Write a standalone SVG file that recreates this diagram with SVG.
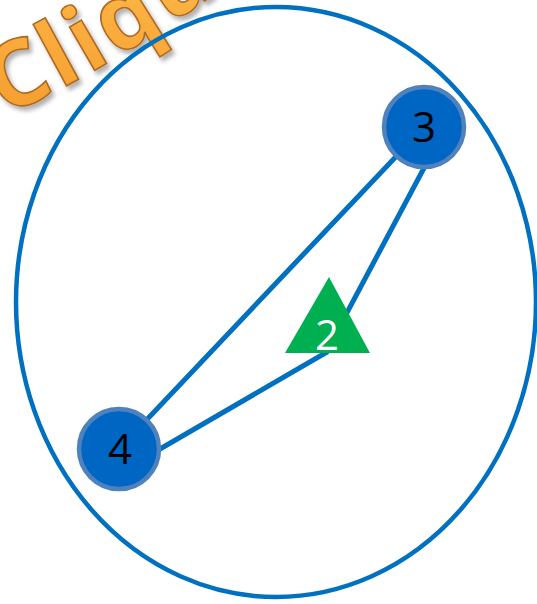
<svg xmlns="http://www.w3.org/2000/svg" width="537" height="604" viewBox="0 0 537 604">
<defs>
<style>
.edge{stroke:#0070c0;stroke-width:5;fill:none;stroke-linecap:round}
.node{fill:#0066c4;stroke:#4f81bd;stroke-width:4.5}
.lbl{font-family:"Open Sans","Noto Sans",sans-serif;font-size:42px;text-anchor:middle}
.word{font-family:"Open Sans","Lato",sans-serif;font-size:92px;font-weight:700;fill:url(#orange);stroke:#b06a22;stroke-width:1.6;letter-spacing:4px}
</style>
<linearGradient id="orange" x1="0" y1="0" x2="0" y2="1">
<stop offset="0" stop-color="#ffe08a"/>
<stop offset="0.5" stop-color="#fbb040"/>
<stop offset="1" stop-color="#f39a2c"/>
</linearGradient>
<filter id="sh" x="-20%" y="-20%" width="140%" height="140%">
<feDropShadow dx="3" dy="4" stdDeviation="2" flood-color="#000" flood-opacity="0.3"/>
</filter>
<path id="arc" d="M 4,116 Q 112,70 262,-40"/>
</defs>
<rect width="537" height="604" fill="#fff"/>
<g id="title">
<text class="word" filter="url(#sh)"><textPath href="#arc">Clique</textPath></text>
</g>
<ellipse id="boundary" cx="276" cy="302" rx="260" ry="295" fill="none" stroke="#0070c0" stroke-width="4.5"/>
<g id="connectors">
<line class="edge" x1="424" y1="127" x2="119" y2="449"/>
<line class="edge" x1="424" y1="168" x2="326" y2="352"/>
<line class="edge" x1="160" y1="449" x2="327" y2="352"/>
</g>
<g id="node2">
<polygon points="329,277 285,353 370,353" fill="#00b050"/>
<text class="lbl" x="327" y="350" fill="#fff">2</text>
</g>
<g id="node3">
<circle class="node" cx="424" cy="127" r="40"/>
<text class="lbl" x="424" y="142">3</text>
</g>
<g id="node4">
<circle class="node" cx="119" cy="449" r="40"/>
<text class="lbl" x="120" y="464">4</text>
</g>
</svg>
